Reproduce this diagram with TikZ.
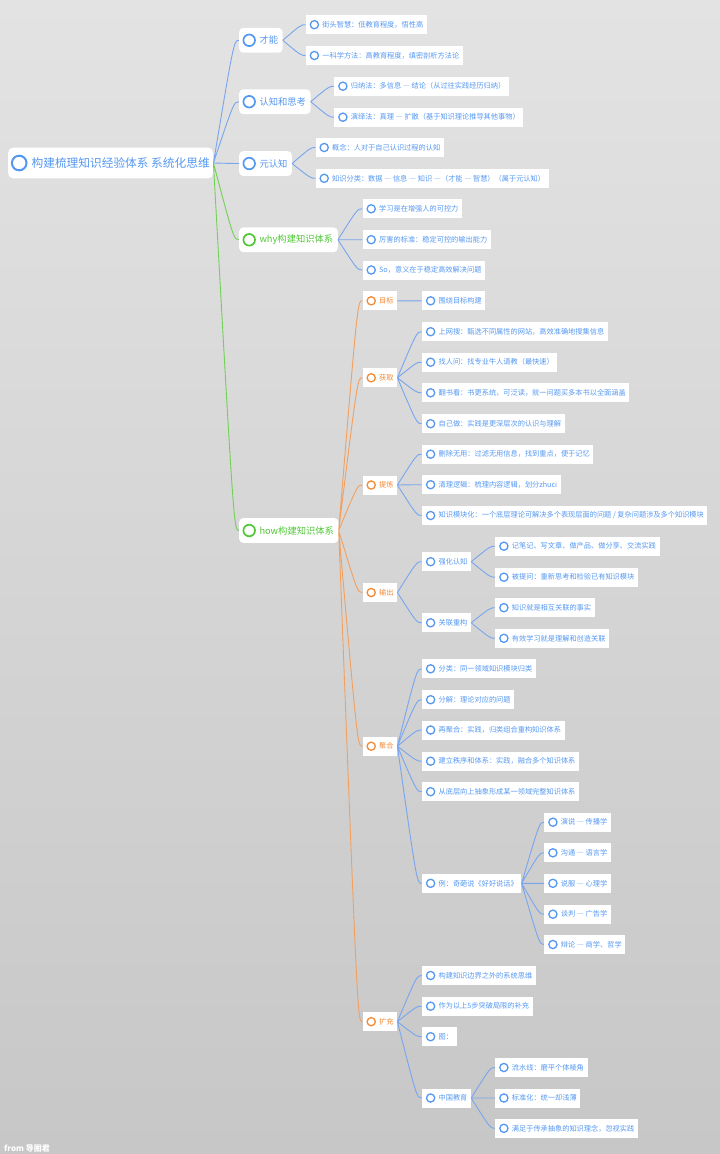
\documentclass[tikz,border=0pt]{standalone}
\usepackage{fontspec}
\setmainfont{Noto Sans CJK SC}
\usetikzlibrary{calc}
\definecolor{mmblue}{HTML}{5598F2}
\definecolor{mmgreen}{HTML}{50C836}
\definecolor{mmorange}{HTML}{F28A36}
\definecolor{blueline}{HTML}{78A6EE}
\definecolor{greenline}{HTML}{72D057}
\definecolor{orangeline}{HTML}{F2A060}
\newcommand\fwdash{{\addfontfeature{CharacterWidth=Full}—}}
\begin{document}
\begin{tikzpicture}[x=1pt,y=-1pt,
  cv/.style={to path={let \p1=(\tikztostart),\p2=(\tikztotarget) in .. controls (0.2*\x1+0.8*\x2,\y2) .. (\tikztotarget)}},
  bline/.style={draw=blueline,line width=0.9pt,cv}, gline/.style={draw=greenline,line width=0.9pt,cv}, oline/.style={draw=orangeline,line width=0.9pt,cv},
  leaf/.style={fill=white,anchor=west,minimum height=19pt,inner xsep=3.6pt,inner ysep=0pt,font=\fontsize{7.2}{8}\selectfont,text=#1,
    execute at begin node={\hspace*{13.1pt}},path picture={\draw[#1,line width=1.3pt] ([xshift=8.7pt]path picture bounding box.west) circle (4.1pt);}},
  leaf/.default=mmblue,
  lvone/.style={fill=white,anchor=west,rounded corners=4pt,minimum height=24.7pt,inner xsep=4.5pt,inner ysep=0pt,font=\fontsize{9.3}{11}\selectfont,text=#1,
    execute at begin node={\hspace*{15.8pt}},path picture={\draw[#1,line width=1.7pt] ([xshift=10pt]path picture bounding box.west) circle (5.8pt);}},
  lvone/.default=mmblue,
  rootbox/.style={fill=white,anchor=west,rounded corners=5pt,minimum height=30.7pt,inner xsep=3.5pt,inner ysep=0pt,font=\fontsize{11.7}{14}\selectfont,text=mmblue,
    execute at begin node={\hspace*{19.9pt}},path picture={\draw[mmblue,line width=2pt] ([xshift=11pt]path picture bounding box.west) circle (7.3pt);}}]
% background
\shade[top color=black!11,bottom color=black!22] (0,0) rectangle (720,1154);
\useasboundingbox (0,0) rectangle (720,1154);
% root and first level
\node[rootbox] (root) at (8,163) {构建梳理知识经验体系 系统化思维};
\node[lvone] (cn) at (239,40.3) {才能}; \node[lvone] (rz) at (239,101.7) {认知和思考}; \node[lvone] (yrz) at (239,163.5) {元认知};
\node[lvone=mmgreen] (why) at (239,239.8) {why构建知识体系}; \node[lvone=mmgreen] (how) at (239,530.5) {how构建知识体系};
\node[leaf] (cn1) at (305.5,24.7) {街头智慧：低教育程度，悟性高}; \node[leaf] (cn2) at (305.5,55.5) {一科学方法：高教育程度，缜密剖析方法论};
\node[leaf] (rz1) at (334,86.2) {归纳法：多信息 \fwdash{} 结论（从过往实践经历归纳）}; \node[leaf] (rz2) at (334,117.2) {演绎法：真理 \fwdash{} 扩散（基于知识理论推导其他事物）};
\node[leaf] (yr1) at (315.3,147.5) {概念：人对于自己认识过程的认知}; \node[leaf] (yr2) at (315.3,178.3) {知识分类：数据 \fwdash{} 信息 \fwdash{} 知识 \fwdash（才能 \fwdash{} 智慧）（属于元认知）};
\node[leaf] (why1) at (362.3,208.8) {学习是在增强人的可控力}; \node[leaf] (why2) at (362.3,239.7) {厉害的标准：稳定可控的输出能力}; \node[leaf] (why3) at (362.3,270) {So，意义在于稳定高效解决问题};
% how steps
\node[leaf=mmorange] (mb) at (362.3,300.8) {目标}; \node[leaf=mmorange] (hq) at (362.3,377.8) {获取}; \node[leaf=mmorange] (tl) at (362.3,485) {提炼};
\node[leaf=mmorange] (sc) at (362.3,592.5) {输出}; \node[leaf=mmorange] (jh) at (362.3,746.2) {聚合}; \node[leaf=mmorange] (kc) at (362.3,1021.7) {扩充};
\node[leaf] (mb1) at (421.7,300.8) {围绕目标构建};
\node[leaf] (hq1) at (421.7,331.7) {上网搜：甄选不同属性的网站，高效准确地搜集信息}; \node[leaf] (hq2) at (421.7,362.2) {找人问：找专业牛人请教（最快速）};
\node[leaf] (hq3) at (421.7,392.8) {翻书看：书更系统，可泛读，就一问题买多本书以全面涵盖}; \node[leaf] (hq4) at (421.7,423.7) {自己做：实践是更深层次的认识与理解};
\node[leaf] (tl1) at (421.7,454.2) {删除无用：过滤无用信息，找到重点，便于记忆}; \node[leaf] (tl2) at (421.7,484.7) {清理逻辑：梳理内容逻辑，划分zhuci};
\node[leaf] (tl3) at (421.7,515.5) {知识模块化：一个底层理论可解决多个表现层面的问题 / 复杂问题涉及多个知识模块};
\node[leaf] (sc1) at (421.7,561.7) {强化认知}; \node[leaf] (sc2) at (421.7,622.8) {关联重构};
\node[leaf] (sc11) at (495,546.2) {记笔记、写文章、做产品、做分享、交流实践}; \node[leaf] (sc12) at (495,577.2) {被提问：重新思考和检验已有知识模块};
\node[leaf] (sc21) at (495,607.7) {知识就是相互关联的事实}; \node[leaf] (sc22) at (495,638.3) {有效学习就是理解和创造关联};
\node[leaf] (jh1) at (421.7,668.8) {分类：同一领域知识模块归类}; \node[leaf] (jh2) at (421.7,699.7) {分解：理论对应的问题}; \node[leaf] (jh3) at (421.7,730) {再聚合：实践，归类组合重构知识体系};
\node[leaf] (jh4) at (421.7,761.2) {建立秩序和体系：实践，融合多个知识体系}; \node[leaf] (jh5) at (421.7,791.7) {从底层向上抽象形成某一领域完整知识体系};
\node[leaf] (jh6) at (421.7,883.3) {例：奇葩说《好好说话》};
\node[leaf] (jh61) at (544,822.2) {演说 \fwdash{} 传播学}; \node[leaf] (jh62) at (544,852.8) {沟通 \fwdash{} 语言学}; \node[leaf] (jh63) at (544,883.3) {说服 \fwdash{} 心理学};
\node[leaf] (jh64) at (544,914.2) {谈判 \fwdash{} 广告学}; \node[leaf] (jh65) at (544,944.5) {辩论 \fwdash{} 商学、哲学};
\node[leaf] (kc1) at (421.7,975.5) {构建知识边界之外的系统思维}; \node[leaf] (kc2) at (421.7,1006.2) {作为以上5步突破局限的补充};
\node[leaf] (kc3) at (421.7,1036.7) {图：}; \node[leaf] (kc4) at (421.7,1098) {中国教育};
\node[leaf] (kc41) at (495,1067.5) {流水线：磨平个体棱角}; \node[leaf] (kc42) at (495,1098) {标准化：统一却浅薄}; \node[leaf] (kc43) at (495,1128.3) {满足于传承抽象的知识理念，忽视实践};
\node[anchor=west,inner sep=0pt,text=white,font=\fontsize{8}{9}\selectfont\bfseries] (foot) at (4,1148.5) {from 导图君};
% connectors
\draw[bline] (root.east) to (cn.west) (root.east) to (rz.west) (root.east) to (yrz.west);
\draw[gline] (root.east) to (why.west) (root.east) to (how.west);
\draw[bline] (cn.east) to (cn1.west) (cn.east) to (cn2.west) (rz.east) to (rz1.west) (rz.east) to (rz2.west) (yrz.east) to (yr1.west) (yrz.east) to (yr2.west);
\draw[bline] (why.east) to (why1.west) (why.east) to (why2.west) (why.east) to (why3.west);
\draw[oline] (how.east) to (mb.west) (how.east) to (hq.west) (how.east) to (tl.west) (how.east) to (sc.west) (how.east) to (jh.west) (how.east) to (kc.west);
\draw[bline] (mb.east) to (mb1.west) (hq.east) to (hq1.west) (hq.east) to (hq2.west) (hq.east) to (hq3.west) (hq.east) to (hq4.west);
\draw[bline] (tl.east) to (tl1.west) (tl.east) to (tl2.west) (tl.east) to (tl3.west);
\draw[bline] (sc.east) to (sc1.west) (sc.east) to (sc2.west) (sc1.east) to (sc11.west) (sc1.east) to (sc12.west) (sc2.east) to (sc21.west) (sc2.east) to (sc22.west);
\draw[bline] (jh.east) to (jh1.west) (jh.east) to (jh2.west) (jh.east) to (jh3.west) (jh.east) to (jh4.west) (jh.east) to (jh5.west) (jh.east) to (jh6.west);
\draw[bline] (jh6.east) to (jh61.west) (jh6.east) to (jh62.west) (jh6.east) to (jh63.west) (jh6.east) to (jh64.west) (jh6.east) to (jh65.west);
\draw[bline] (kc.east) to (kc1.west) (kc.east) to (kc2.west) (kc.east) to (kc3.west) (kc.east) to (kc4.west) (kc4.east) to (kc41.west) (kc4.east) to (kc42.west) (kc4.east) to (kc43.west);
\end{tikzpicture}
\end{document}
